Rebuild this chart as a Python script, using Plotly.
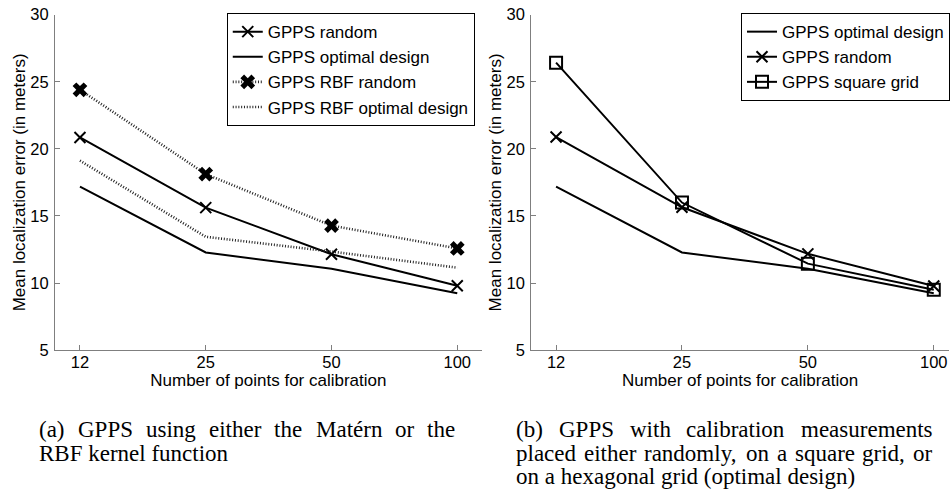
import plotly.graph_objects as go

# ---------------- data ----------------
calib_points = ["12", "25", "50", "100"]

gpps_random = [20.85, 15.62, 12.15, 9.8]
gpps_optimal = [17.18, 12.28, 11.07, 9.25]
gpps_rbf_random = [24.4, 18.12, 14.28, 12.58]
gpps_rbf_optimal = [19.12, 13.45, 12.35, 11.15]

gpps_random_b = [20.88, 15.65, 12.18, 9.78]
gpps_optimal_b = [17.18, 12.28, 11.07, 9.25]
gpps_square = [26.42, 16.0, 11.45, 9.5]

y_ticks = [5, 10, 15, 20, 25, 30]

x_title = "Number of points for calibration"
y_title = "Mean localization error (in meters)"

caption_a = ["(a) GPPS using either the Matérn or the", "RBF kernel function"]
caption_b = ["(b) GPPS with calibration measurements",
             "placed either randomly, on a square grid, or",
             "on a hexagonal grid (optimal design)"]

# ---------------- styling ----------------
W, H = 950, 492
SANS = "Liberation Sans, Arial, Helvetica, sans-serif"
SERIF = "Liberation Serif, Times New Roman, serif"
AXIS_GREY = "#7f7f7f"
DOT_DASH = "1px,1.8px"
# observed vertical placement of the page: shown_y = V_OFF + V_SCALE * figure_y
V_OFF, V_SCALE = 8.9, 0.965

fig = go.Figure()

def px_x(v):
    return v / W

def px_y(v):
    return 1 - ((v - V_OFF) / V_SCALE) / H

# panel (a)
fig.add_trace(go.Scatter(x=calib_points, y=gpps_random, name="GPPS random",
                         mode="lines+markers", xaxis="x", yaxis="y", legend="legend",
                         line=dict(color="black", width=2),
                         marker=dict(symbol="x-thin-open", size=11, color="black",
                                     line=dict(color="black", width=2))))
fig.add_trace(go.Scatter(x=calib_points, y=gpps_optimal, name="GPPS optimal design",
                         mode="lines", xaxis="x", yaxis="y", legend="legend",
                         line=dict(color="black", width=2)))
fig.add_trace(go.Scatter(x=calib_points, y=gpps_rbf_random, name="GPPS RBF random",
                         mode="lines+markers", xaxis="x", yaxis="y", legend="legend",
                         line=dict(color="#222222", width=2.6, dash=DOT_DASH),
                         marker=dict(symbol="x", size=13, color="black",
                                     line=dict(width=0))))
fig.add_trace(go.Scatter(x=calib_points, y=gpps_rbf_optimal, name="GPPS RBF optimal design",
                         mode="lines", xaxis="x", yaxis="y", legend="legend",
                         line=dict(color="#222222", width=2.6, dash=DOT_DASH)))

# panel (b)
fig.add_trace(go.Scatter(x=calib_points, y=gpps_optimal_b, name="GPPS optimal design",
                         mode="lines", xaxis="x2", yaxis="y2", legend="legend2",
                         line=dict(color="black", width=2)))
fig.add_trace(go.Scatter(x=calib_points, y=gpps_random_b, name="GPPS random",
                         mode="lines+markers", xaxis="x2", yaxis="y2", legend="legend2",
                         line=dict(color="black", width=2),
                         marker=dict(symbol="x-thin-open", size=11, color="black",
                                     line=dict(color="black", width=2))))
fig.add_trace(go.Scatter(x=calib_points, y=gpps_square, name="GPPS square grid",
                         mode="lines+markers", xaxis="x2", yaxis="y2", legend="legend2",
                         line=dict(color="black", width=2),
                         marker=dict(symbol="square-open", size=12, color="black",
                                     line=dict(color="black", width=2))))

y_dom = [px_y(350.7), px_y(14.5)]

def xaxis_style(domain, rng, anchor):
    return dict(domain=domain, range=rng, type="category", anchor=anchor,
                showline=True, linecolor=AXIS_GREY, linewidth=1,
                ticks="inside", ticklen=5, tickcolor=AXIS_GREY, tickwidth=1,
                showgrid=False, zeroline=False,
                tickfont=dict(family=SANS, size=16.5, color="black"),
                ticklabelstandoff=-3, ticklabeloverflow="allow",
                title=dict(text=x_title, font=dict(family=SANS, size=17, color="black"),
                           standoff=0))

def yaxis_style(anchor):
    return dict(domain=y_dom, range=[5, 30], anchor=anchor,
                tickvals=y_ticks,
                showline=True, linecolor=AXIS_GREY, linewidth=1,
                ticks="inside", ticklen=5, tickcolor=AXIS_GREY, tickwidth=1,
                showgrid=False, zeroline=False,
                tickfont=dict(family=SANS, size=16.5, color="black"),
                ticklabelstandoff=2, ticklabeloverflow="allow",
                title=dict(text=y_title, font=dict(family=SANS, size=17, color="black"),
                           standoff=0))

legend_common = dict(bordercolor="black", borderwidth=1, bgcolor="white",
                     font=dict(family=SANS, size=17, color="black"),
                     xanchor="left", yanchor="top", tracegroupgap=0,
                     itemwidth=30)

# ---------------- captions (justified via word widths) ----------------
TIMES = {' ': 250, '(': 333, ')': 333, ',': 250, 'a': 444, 'b': 500, 'c': 444,
         'd': 500, 'e': 444, 'f': 333, 'g': 500, 'h': 500, 'i': 278, 'k': 500,
         'l': 278, 'm': 778, 'n': 500, 'o': 500, 'p': 500, 'q': 500, 'r': 333,
         's': 389, 't': 278, 'u': 500, 'w': 722, 'x': 500, 'y': 500, 'z': 444,
         'G': 722, 'P': 556, 'S': 556, 'M': 889, 'R': 667, 'B': 667, 'F': 556,
         'é': 444}
CAP_FS = 23

def word_w(word):
    return sum(TIMES.get(ch, 500) for ch in word) * CAP_FS / 1000.0

annotations = []

def add_caption(lines, x0, x1, y_centers):
    for i, (line, yc) in enumerate(zip(lines, y_centers)):
        last = i == len(lines) - 1
        if last:
            annotations.append(dict(text=line, x=px_x(x0), y=px_y(yc), xref="paper",
                                    yref="paper", xanchor="left", yanchor="middle",
                                    showarrow=False, borderpad=0,
                                    font=dict(family=SERIF, size=CAP_FS, color="black")))
            continue
        words = line.split(" ")
        widths = [word_w(w) for w in words]
        gap = (x1 - x0 - sum(widths)) / (len(words) - 1)
        xpos = x0
        for w, wd in zip(words, widths):
            annotations.append(dict(text=w, x=px_x(xpos), y=px_y(yc), xref="paper",
                                    yref="paper", xanchor="left", yanchor="middle",
                                    showarrow=False, borderpad=0,
                                    font=dict(family=SERIF, size=CAP_FS, color="black")))
            xpos += wd + gap

add_caption(caption_a, 38, 455, [430.5, 454])
add_caption(caption_b, 516, 932, [430.5, 454, 477.5])

fig.update_layout(
    width=W, height=H,
    margin=dict(l=0, r=0, t=0, b=0),
    paper_bgcolor="white", plot_bgcolor="white",
    showlegend=True,
    xaxis=xaxis_style([px_x(55), px_x(482.3)], [-0.199, 3.195], "y"),
    yaxis=yaxis_style("x"),
    xaxis2=xaxis_style([px_x(531.7), 1.0], [-0.198, 3.121], "y2"),
    yaxis2=yaxis_style("x2"),
    legend=dict(x=px_x(227), y=px_y(13), **legend_common),
    legend2=dict(x=px_x(742), y=px_y(13), **legend_common),
    annotations=annotations,
)

PAGE_JS = ("document.body.style.margin='0';"
           "document.body.style.padding='0';"
           "document.body.style.overflow='hidden';"
           "document.documentElement.style.overflow='hidden';")

fig.write_html("out.html", post_script=PAGE_JS,
               config={"displayModeBar": False, "responsive": False})
